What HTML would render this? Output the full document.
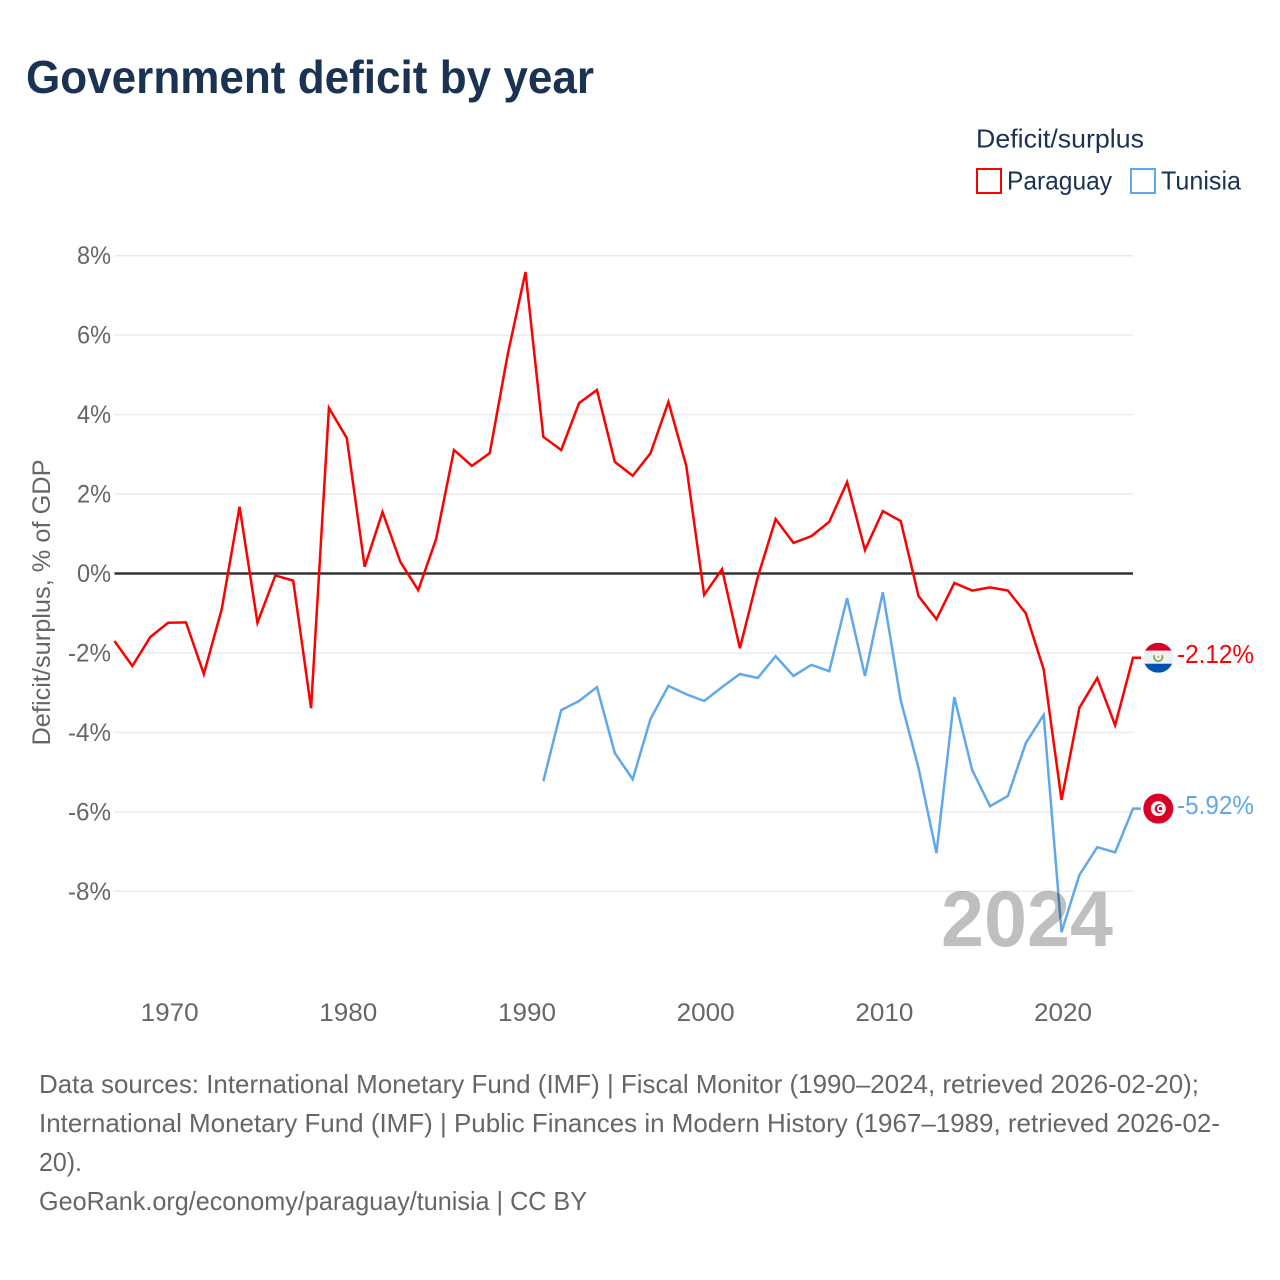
<!DOCTYPE html>
<html lang="en">
<head>
<meta charset="utf-8">
<title>Government deficit by year</title>
<style>
  html, body { margin: 0; padding: 0; background: #fff; }
  svg { display: block; font-family: "Liberation Sans", sans-serif; }
</style>
</head>
<body>
<svg id="chart" width="1280" height="1280" viewBox="0 0 1280 1280" xmlns="http://www.w3.org/2000/svg">
  <defs>
    <clipPath id="flag-clip-py"><circle cx="0" cy="0" r="15"></circle></clipPath>
  </defs>
  <rect width="1280" height="1280" fill="#ffffff"></rect>
  <text x="26" y="93" font-size="46" font-weight="700" fill="#1a3353" textLength="568" lengthAdjust="spacingAndGlyphs">Government deficit by year</text>

  <g>
    <text x="976" y="147.5" font-size="26" fill="#1a3353" textLength="168" lengthAdjust="spacingAndGlyphs">Deficit/surplus</text>
    <rect x="977" y="169" width="24" height="24" fill="none" stroke="#ff0000" stroke-width="2"></rect>
    <text x="1007" y="189.5" font-size="26" fill="#1a3353" textLength="105" lengthAdjust="spacingAndGlyphs">Paraguay</text>
    <rect x="1131" y="169" width="24" height="24" fill="none" stroke="#5fa8ec" stroke-width="2"></rect>
    <text x="1161" y="189.5" font-size="26" fill="#1a3353" textLength="80" lengthAdjust="spacingAndGlyphs">Tunisia</text>
  </g>

  <g id="grid"></g>
  <g id="yticks"></g>
  <g id="xticks"></g>
  <text transform="translate(50,602.5) rotate(-90)" text-anchor="middle" font-size="25" fill="#666666" textLength="286" lengthAdjust="spacingAndGlyphs">Deficit/surplus, % of GDP</text>
  <g id="series"></g>
  <text x="941" y="946" font-size="79" font-weight="700" fill="#000000" fill-opacity="0.25" textLength="172" lengthAdjust="spacingAndGlyphs">2024</text>
  <g id="endlabels"></g>

  <g font-size="26" fill="#666666">
    <text x="39" y="1093" textLength="1160" lengthAdjust="spacingAndGlyphs">Data sources: International Monetary Fund (IMF) | Fiscal Monitor (1990–2024, retrieved 2026-02-20);</text>
    <text x="39" y="1132" textLength="1181" lengthAdjust="spacingAndGlyphs">International Monetary Fund (IMF) | Public Finances in Modern History (1967–1989, retrieved 2026-02-</text>
    <text x="39" y="1171" textLength="43" lengthAdjust="spacingAndGlyphs">20).</text>
    <text x="39" y="1210" textLength="548" lengthAdjust="spacingAndGlyphs">GeoRank.org/economy/paraguay/tunisia | CC BY</text>
  </g>
</svg>
<script>
const startYear = 1967;
const endYear = 2024;
const tunisiaStartYear = 1991;
const yTickValues = [8, 6, 4, 2, 0, -2, -4, -6, -8];
const xTickYears = [1970, 1980, 1990, 2000, 2010, 2020];
const paraguayValues = [-1.70, -2.33, -1.60, -1.24, -1.23, -2.53, -0.90, 1.68, -1.24, -0.05,
  -0.18, -3.39, 4.17, 3.41, 0.17, 1.55, 0.29, -0.42, 0.87, 3.11,
  2.71, 3.03, 5.50, 7.59, 3.44, 3.11, 4.29, 4.62, 2.81, 2.46,
  3.03, 4.32, 2.71, -0.54, 0.11, -1.88, -0.09, 1.37, 0.77, 0.94,
  1.30, 2.30, 0.59, 1.57, 1.32, -0.57, -1.15, -0.24, -0.43, -0.35,
  -0.43, -1.00, -2.41, -5.70, -3.38, -2.63, -3.82, -2.12];
const tunisiaValues = [-5.23, -3.44, -3.21, -2.86, -4.52, -5.18, -3.66, -2.83, -3.04, -3.21,
  -2.86, -2.53, -2.63, -2.08, -2.58, -2.30, -2.46, -0.62, -2.58, -0.47,
  -3.19, -4.90, -7.04, -3.11, -4.95, -5.86, -5.60, -4.27, -3.56, -9.03,
  -7.59, -6.89, -7.02, -5.92];
const paraguayColor = '#ff0000';
const tunisiaColor = '#5fa8ec';

const NS = 'http://www.w3.org/2000/svg';
const plotLeft = 114.5;
const plotRight = 1133;
const xScale = function (year) {
  return plotLeft + (year - startYear) * (plotRight - plotLeft) / (endYear - startYear);
};
const yScale = function (value) {
  return 573.5 - value * 39.72;
};
function make(tag, attrs, parent) {
  const el = document.createElementNS(NS, tag);
  for (const k in attrs) el.setAttribute(k, attrs[k]);
  parent.appendChild(el);
  return el;
}

const grid = document.getElementById('grid');
const yticks = document.getElementById('yticks');
const xticks = document.getElementById('xticks');
const series = document.getElementById('series');
const endlabels = document.getElementById('endlabels');

yTickValues.forEach(function (v) {
  if (v !== 0) {
    const line = make('line', { x1: plotLeft, x2: plotRight, y1: yScale(v), y2: yScale(v), stroke: '#ebebeb', 'stroke-width': 1.5 }, grid);
    
    
  }
  const label = make('text', { x: 111, y: yScale(v) + 8.5, 'text-anchor': 'end', 'font-size': 25, fill: '#666666', textLength: v < 0 ? 43 : 34, lengthAdjust: 'spacingAndGlyphs' }, yticks);
  label.textContent = v + '%';
  
  
});
const zeroLine = make('line', { x1: plotLeft, x2: plotRight, y1: yScale(0), y2: yScale(0), stroke: '#333333', 'stroke-width': 2.5 }, grid);



xTickYears.forEach(function (yr) {
  const label = make('text', { x: xScale(yr) + 1.5, y: 1021, 'text-anchor': 'middle', 'font-size': 25, fill: '#666666', textLength: 58, lengthAdjust: 'spacingAndGlyphs' }, xticks);
  label.textContent = String(yr);
  
  
});

function drawLine(values, firstYear, color) {
  const pts = values.map(function (v, i) { return xScale(firstYear + i) + ',' + yScale(v); });
  const lastV = values[values.length - 1];
  pts.push((xScale(endYear) + 8) + ',' + yScale(lastV));
  return make('polyline', { points: pts.join(' '), fill: 'none', stroke: color, 'stroke-width': 2.5, 'stroke-linejoin': 'miter' }, series);
}
const tunisiaLine = drawLine(tunisiaValues, tunisiaStartYear, tunisiaColor);


const paraguayLine = drawLine(paraguayValues, startYear, paraguayColor);



function formatValue(v) { return v.toFixed(2) + '%'; }

const flagX = xScale(endYear) + 25.3;
const pyLast = paraguayValues[paraguayValues.length - 1];
const tnLast = tunisiaValues[tunisiaValues.length - 1];

const pyFlag = make('g', { transform: 'translate(' + flagX + ',' + yScale(pyLast) + ')', 'clip-path': 'url(#flag-clip-py)' }, endlabels);


make('rect', { x: -15, y: -15, width: 30, height: 8, fill: '#d80027' }, pyFlag);
make('rect', { x: -15, y: -7, width: 30, height: 13, fill: '#f0f0f0' }, pyFlag);
make('rect', { x: -15, y: 6, width: 30, height: 9, fill: '#0052b4' }, pyFlag);
make('path', { d: 'M -3.8 -2.5 A 4.2 4.2 0 1 0 3.8 -2.5', fill: 'none', stroke: '#6da544', 'stroke-width': 1.6 }, pyFlag);
make('circle', { cx: 0, cy: -0.8, r: 1.2, fill: '#eaa0a0' }, pyFlag);

const tnFlag = make('g', { transform: 'translate(' + flagX + ',' + yScale(tnLast) + ')' }, endlabels);


make('circle', { cx: 0, cy: 0, r: 15, fill: '#d80027' }, tnFlag);
make('circle', { cx: 0, cy: 0, r: 7.5, fill: '#f0f0f0' }, tnFlag);
make('circle', { cx: 1, cy: 0, r: 4.6, fill: '#d80027' }, tnFlag);
make('circle', { cx: 2.2, cy: 0, r: 3.6, fill: '#f0f0f0' }, tnFlag);
make('circle', { cx: 2.2, cy: 0, r: 1.6, fill: '#d80027' }, tnFlag);

const pyLabel = make('text', { x: 1177, y: yScale(pyLast) + 5.5, 'font-size': 26, fill: paraguayColor, textLength: 77, lengthAdjust: 'spacingAndGlyphs' }, endlabels);
pyLabel.textContent = formatValue(pyLast);


const tnLabel = make('text', { x: 1177, y: yScale(tnLast) + 5.5, 'font-size': 26, fill: tunisiaColor, textLength: 77, lengthAdjust: 'spacingAndGlyphs' }, endlabels);
tnLabel.textContent = formatValue(tnLast);


</script>
</body>
</html>
